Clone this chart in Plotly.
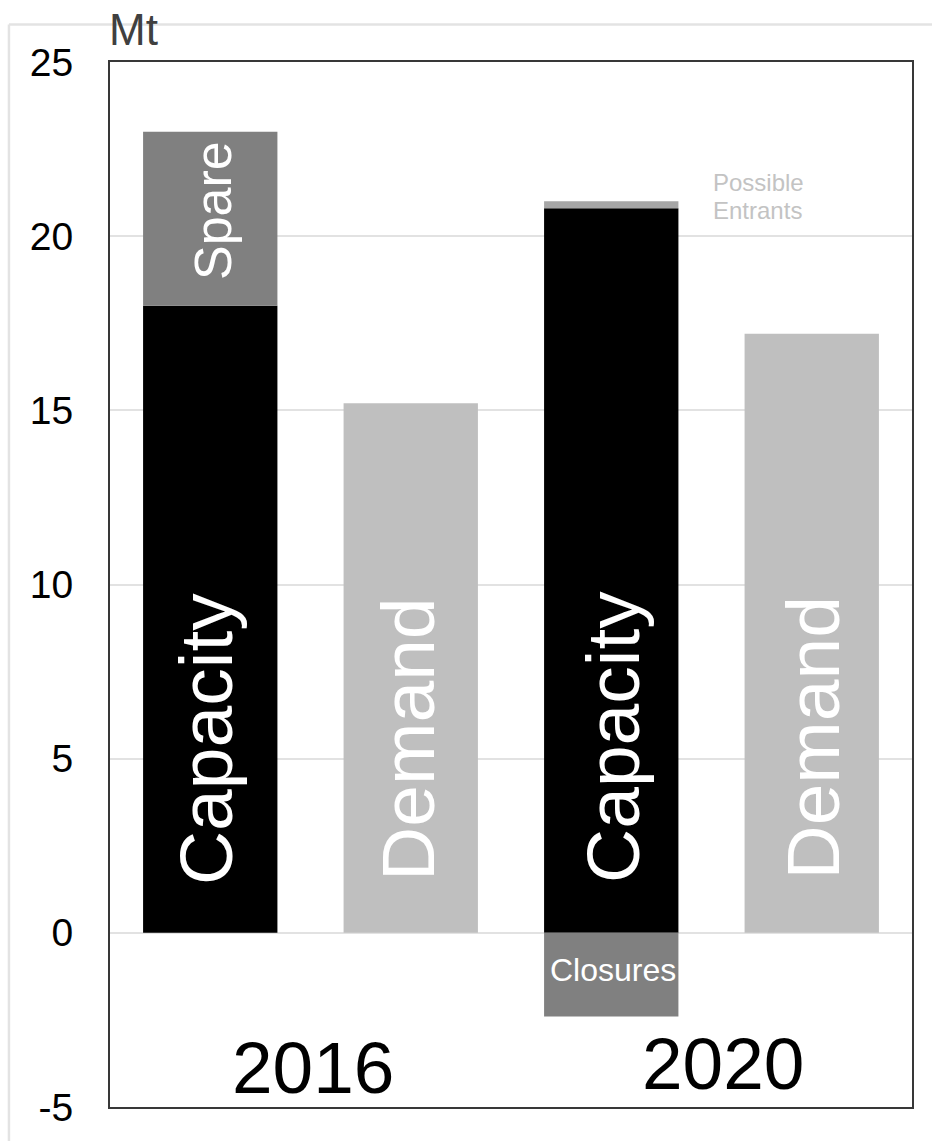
import plotly.graph_objects as go

# Bar slots (left to right) and stacked series values, in Mt
slots = ["Capacity 2016", "Demand 2016", "Capacity 2020", "Demand 2020"]
capacity = [18.0, None, 20.8, None]
spare = [5.0, None, None, None]
entrants = [None, None, 0.2, None]
closures = [None, None, -2.4, None]
demand = [None, 15.2, None, 17.2]

y_ticks = [-5, 0, 5, 10, 15, 20, 25]

FONT = "Liberation Sans, Arial, sans-serif"
BAR_W = 0.67

fig = go.Figure()
series = [
    ("Capacity", capacity, "#000000"),
    ("Spare", spare, "#808080"),
    ("Possible Entrants", entrants, "#a6a6a6"),
    ("Closures", closures, "#808080"),
    ("Demand", demand, "#bfbfbf"),
]
for name, vals, col in series:
    fig.add_trace(go.Bar(
        x=slots, y=vals, name=name, width=BAR_W,
        marker=dict(color=col, line=dict(width=0)),
        hoverinfo="skip",
    ))

ann = []
# Vertical labels inside bars
for i, (txt, yv, col, xs) in enumerate([
    ("Capacity", 5.57, "white", -4),
    ("Demand", 5.56, "white", -3),
    ("Capacity", 5.63, "white", 1),
    ("Demand", 5.60, "white", 1),
]):
    ann.append(dict(x=i, y=yv, xref="x", yref="y", text=txt, textangle=-90,
                    showarrow=False, xshift=xs,
                    font=dict(family=FONT, size=75, color=col)))

ann.append(dict(x=0, y=20.73, xref="x", yref="y", text="Spare", textangle=-90,
                showarrow=False, xshift=2,
                font=dict(family=FONT, size=52, color="white")))
ann.append(dict(x=2, y=-1.08, xref="x", yref="y", text="Closures",
                showarrow=False, xshift=2,
                font=dict(family=FONT, size=32, color="white")))
ann.append(dict(x=2.5, y=21.53, xref="x", yref="y", text="Possible",
                showarrow=False, xanchor="left", xshift=0, borderpad=0,
                font=dict(family=FONT, size=24, color="#c3c3c3")))
ann.append(dict(x=2.5, y=20.74, xref="x", yref="y", text="Entrants",
                showarrow=False, xanchor="left", xshift=0, borderpad=0,
                font=dict(family=FONT, size=24, color="#c3c3c3")))

# Year labels under each pair
ann.append(dict(x=0.5, y=-3.86, xref="x", yref="y", text="2016",
                showarrow=False, xshift=2,
                font=dict(family=FONT, size=73, color="black")))
ann.append(dict(x=2.5, y=-3.74, xref="x", yref="y", text="2020",
                showarrow=False, xshift=11.5,
                font=dict(family=FONT, size=73, color="black")))

# Unit label
ann.append(dict(x=-0.004, y=1.031, xref="paper", yref="paper", text="Mt",
                showarrow=False, xanchor="left", yanchor="middle",
                font=dict(family=FONT, size=44, color="#404040")))

# Light outer frame
shapes = [
    dict(type="line", xref="paper", yref="paper", x0=-0.126, x1=-0.126,
         y0=-0.1, y1=1.036, line=dict(color="#e3e3e3", width=2.5)),
    dict(type="line", xref="paper", yref="paper", x0=-0.126, x1=1.1,
         y0=1.036, y1=1.036, line=dict(color="#e3e3e3", width=2.5)),
]

fig.update_layout(
    width=932, height=1141,
    margin=dict(l=110, r=20, t=62, b=34),
    paper_bgcolor="white", plot_bgcolor="white",
    barmode="relative",
    showlegend=False,
    annotations=ann,
    shapes=shapes,
    font=dict(family=FONT),
    xaxis=dict(
        type="category", range=[-0.5, 3.5], showticklabels=False,
        showgrid=False, zeroline=False,
        showline=True, mirror=True, linecolor="#383838", linewidth=2,
        ticks="",
    ),
    yaxis=dict(
        range=[-5, 25], tickvals=y_ticks, ticktext=[str(v) for v in y_ticks],
        showgrid=True, gridcolor="#e2e2e2", gridwidth=2, zeroline=False,
        showline=True, mirror=True, linecolor="#383838", linewidth=2,
        ticks="", ticklabelstandoff=27,
        tickfont=dict(family=FONT, size=39, color="black"),
    ),
)

fig.write_html("out.html")
